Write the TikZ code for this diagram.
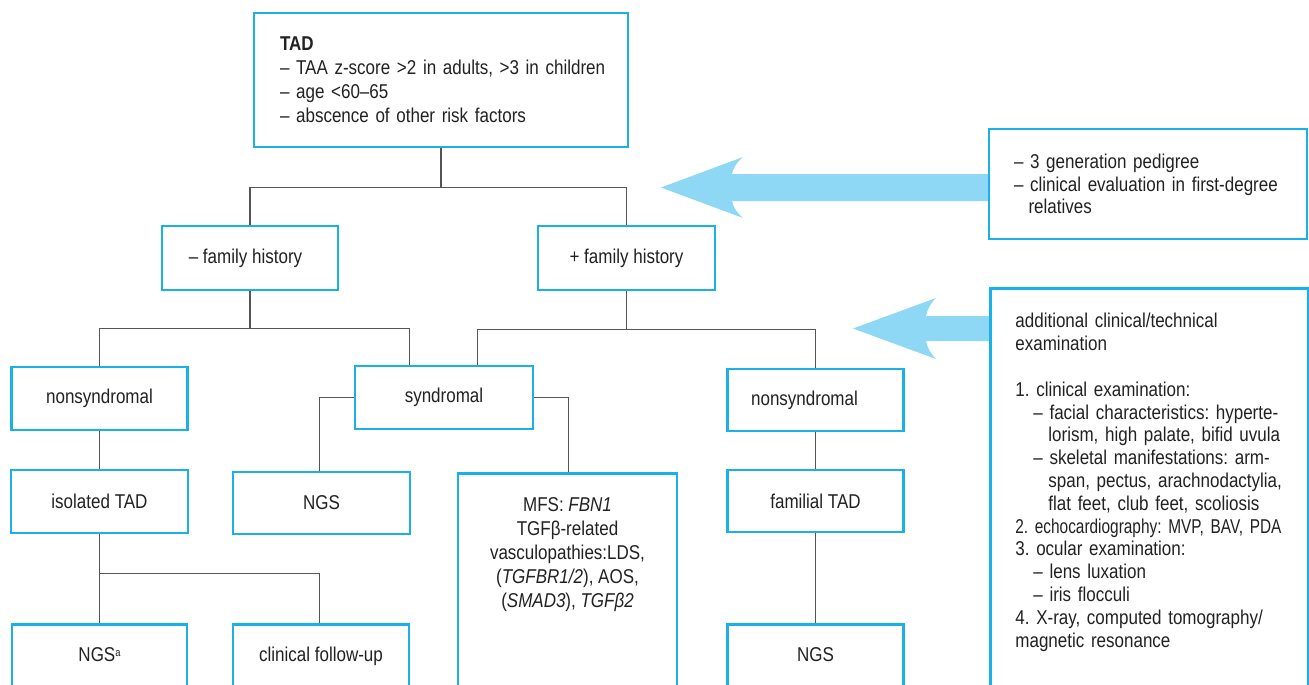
\documentclass[tikz,border=0pt]{standalone}
\usepackage{fontspec}
\setmainfont[FakeStretch=0.85]{Liberation Sans}
\usetikzlibrary{calc}
\definecolor{boxblue}{HTML}{1AB0EA}
\definecolor{arrowfill}{HTML}{8ED8F5}
\definecolor{linegray}{HTML}{555555}
\definecolor{txt}{HTML}{222222}
\frenchspacing
\begin{document}
\begin{tikzpicture}[x=1pt,y=-1pt,
  box/.style={draw=boxblue, line width=2.8pt, fill=white, text=txt, inner sep=0pt,
    font=\fontsize{20}{24}\selectfont},
  smallbox/.style={box, minimum width=176pt, minimum height=63pt},
  bottombox/.style={box, anchor=north, minimum width=176pt, inner ysep=23pt},
  conn/.style={draw=linegray, line width=1.1pt},
  bigarrow/.style={fill=arrowfill, draw=none}]
\useasboundingbox (0,0) rectangle (1309,685);
\clip (0,0) rectangle (1309,685);

% big arrows (drawn first, boxes cover their roots)
\coordinate (a1tip) at (661,187.5);
\coordinate (a2tip) at (853,328.5);
\fill[bigarrow] (a1tip) -- (743,157) .. controls (736,163) and (733,169) .. (732,174)
  -- (995,174) -- (995,201) -- (732,201) .. controls (733,206) and (736,212) .. (743,218) -- cycle;
\fill[bigarrow] (a2tip) -- (936,298) .. controls (930,304) and (927,310) .. (926,316)
  -- (995,316) -- (995,341) -- (926,341) .. controls (927,347) and (930,353) .. (936,359) -- cycle;

% nodes
\node[box, minimum width=374pt, minimum height=134pt, text width=322pt, align=left] (tad) at (441,80)
  {\textbf{TAD}\\\mbox{– TAA z-score >2 in adults, >3 in children}\\– age <60–65\\– abscence of other risk factors};

\node[box, minimum width=176pt, minimum height=64pt] (fm) at (250,258) {\hspace*{-9pt}– family history};
\node[box, minimum width=177pt, minimum height=64pt] (fp) at (626.5,258) {+ family history};

\node[box, anchor=center, minimum width=318pt, minimum height=110pt, text width=268pt, align=left,
  font=\fontsize{20}{22.8}\selectfont] (rb1) at (1148,184)
  {– 3 generation pedigree\\\mbox{– clinical evaluation in first-degree}\\\hspace*{14.5pt}relatives};

\node[box, anchor=north west, text width=268pt, inner xsep=25pt, inner ysep=25pt, align=left,
  font=\fontsize{20}{22.8}\selectfont] (rb2) at (989,287)
  {additional clinical/technical\\
   examination\\[22.8pt]
   1. clinical examination:\\
   \mbox{\hspace*{18pt}– facial characteristics: hyperte-}\\
   \mbox{\hspace*{33pt}lorism, high palate, bifid uvula}\\
   \mbox{\hspace*{18pt}– skeletal manifestations: arm-}\\
   \mbox{\hspace*{33pt}span, pectus, arachnodactylia,}\\
   \mbox{\hspace*{33pt}flat feet, club feet, scoliosis}\\
   \mbox{\addfontfeature{FakeStretch=0.77}2. echocardiography: MVP, BAV, PDA}\\
   3. ocular examination:\\
   \hspace*{18pt}– lens luxation\\
   \hspace*{18pt}– iris flocculi\\
   \mbox{4. X-ray, computed tomography/}\\
   magnetic resonance\rule[-80pt]{0pt}{0pt}};

\node[smallbox] (nsL) at (99.5,398.5) {nonsyndromal};
\node[box, minimum width=178pt, minimum height=63pt] (syn) at (444,397.5) {syndromal};
\node[smallbox, minimum height=62pt] (nsR) at (815.5,400) {\hspace*{-22pt}nonsyndromal};

\node[smallbox, minimum width=177pt] (iso) at (99.5,501.5) {isolated TAD};
\node[smallbox, minimum width=177pt, minimum height=62pt] (ngs1) at (321.5,503) {NGS};
\node[smallbox, minimum height=62pt] (fam) at (815.5,501) {familial TAD};

\node[box, anchor=north, minimum width=219pt, inner ysep=24pt, align=center] (mfs) at (567.5,472)
  {MFS: \textit{FBN1}\\TGFβ-related\\vasculopathies:LDS,\\(\textit{TGFBR1/2}), AOS,\\(\textit{SMAD3}), \textit{TGFβ2}\rule[-100pt]{0pt}{0pt}};

\node[bottombox, minimum width=175pt] (ngsa) at (99.5,623) {NGS{\fontsize{11}{11}\selectfont\raisebox{5pt}{a}}\rule[-60pt]{0pt}{0pt}};
\node[bottombox] (cfu) at (321,623) {clinical follow-up\rule[-60pt]{0pt}{0pt}};
\node[bottombox] (ngs3) at (815.5,623) {NGS\rule[-60pt]{0pt}{0pt}};

% connectors
\coordinate (j1) at ($(tad.south)+(0,39)$);
\draw[conn] (tad.south) -- (j1);
\draw[conn] (fm.north) |- (j1) -| (fp.north);

\draw[conn] (fm.south) -- ++(0,37) coordinate (j2);
\draw[conn] (nsL.north) |- (j2) -| ($(syn.north west)+(56,0)$);

\draw[conn] (fp.south) -- ++(0,38) coordinate (j3);
\draw[conn] ($(syn.north west)+(124,0)$) |- (j3) -| (nsR.north);

\draw[conn] (syn.west) -| ($(ngs1.north)+(-2,0)$);
\draw[conn] (syn.east) -| ($(mfs.north)+(1,0)$);

\draw[conn] (nsL.south) -- (iso.north);
\draw[conn] (nsR.south) -- (fam.north);
\draw[conn] (fam.south) -- (ngs3.north);
\draw[conn] (iso.south) -- (ngsa.north);
\draw[conn] ($(iso.south)+(0,39)$) -| ($(cfu.north)+(-1.5,0)$);
\end{tikzpicture}
\end{document}
